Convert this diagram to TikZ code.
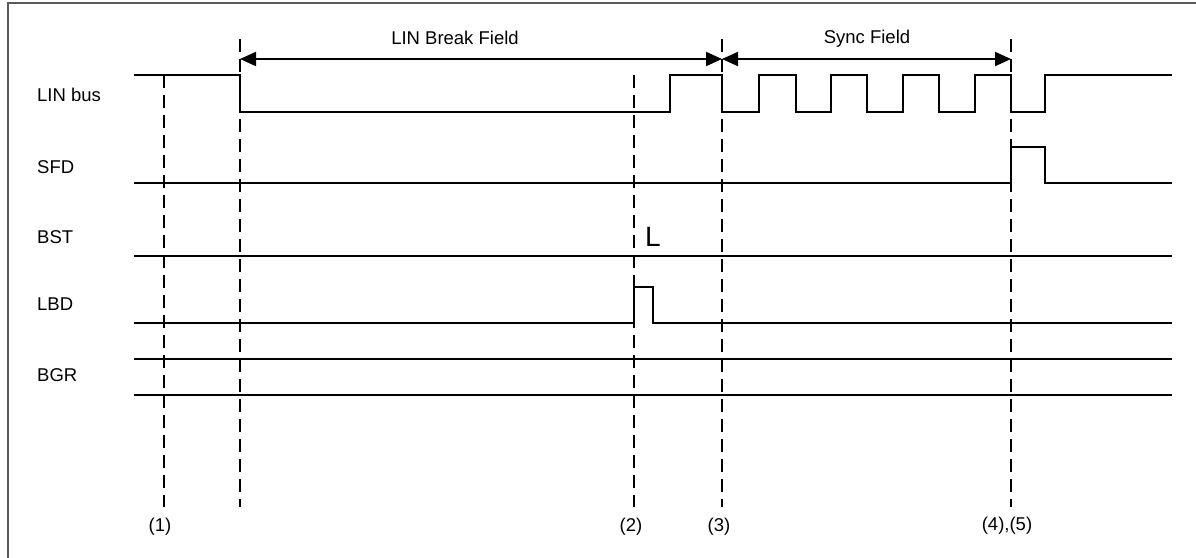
\documentclass[tikz,border=0pt]{standalone}
\usepackage{fontspec}
\usepackage{tikz}
\usepackage{xcolor}
\setmainfont{Liberation Sans}
\usetikzlibrary{arrows.meta,positioning}
\definecolor{tdframe}{RGB}{90,90,90}
\tikzset{
  tdwave/.style={line width=2pt, line join=miter, draw=black},
  tdmark/.style={line width=2pt, dash pattern=on 13pt off 7pt, draw=black},
  tdarr/.style={{Triangle[length=16pt,width=14pt]}-{Triangle[length=16pt,width=14pt]}, line width=2pt, draw=black},
  tdlab/.style={font=\fontsize{18.5}{20}\selectfont, inner sep=0pt, anchor=west},
  tdnum/.style={font=\fontsize{18.5}{20}\selectfont, inner sep=0pt}
}

\begin{document}
\begin{tikzpicture}[x=1pt, y=-1pt]
  \useasboundingbox (0,0) rectangle (1196,557);
  \draw[line width=2pt, draw=tdframe] (8,560) |- (1200,3);
  % signal names
  \node[tdlab] (linbus) at (37,95) {LIN bus};
  \node[tdlab] (sfd) at (37,167) {SFD};
  \node[tdlab] (bst) at (37,237) {BST};
  \node[tdlab] (lbd) at (37,304) {LBD};
  \node[tdlab] (bgr) at (37,375) {BGR};
  % waveforms
  \draw[tdwave] (134,75) -| (240,112) -| (670,75) -| (722,112) -| (759,75) -| (796,112)
    -| (831,75) -| (867,112) -| (903,75) -| (939,112) -| (975,75) -| (1011,112) -| (1045,75) -- (1172,75);
  \draw[tdwave] (134,183) -| (1011,147) -| (1045,183) -- (1172,183);
  \draw[tdwave] (134,256) -- (1172,256);
  \draw[tdwave] (134,323) -| (634,287) -| (653,323) -- (1172,323);
  \draw[tdwave] (134,359) -- (1172,359);
  \draw[tdwave] (134,395) -- (1172,395);
  % time marks
  \foreach \x/\ytop in {164/75,240/39,634/75,722/39,1011/39}
    \draw[tdmark] (\x,\ytop) -- (\x,507);
  \node[tdnum] (m1) at (160,527) {(1)};
  \node[tdnum] (m2) at (631,527) {(2)};
  \node[tdnum] (m3) at (719,527) {(3)};
  \node[tdnum] (m45) at (1007,526) {(4),(5)};
  \node[font=\fontsize{28}{30}\selectfont, inner sep=0pt] (bstl) at (653,237) {L};
  % fields
  \coordinate (brkstart) at (240,59);
  \coordinate (brkend) at (722,59);
  \coordinate (syncend) at (1011,59);
  \draw[tdarr] (brkstart) -- (brkend);
  \draw[tdarr] (brkend) -- (syncend);
  \node[tdnum] (brklab) at (455,38) {LIN Break Field};
  \node[tdnum] (synclab) at (867,39) {Sync Field};
\end{tikzpicture}
\end{document}
